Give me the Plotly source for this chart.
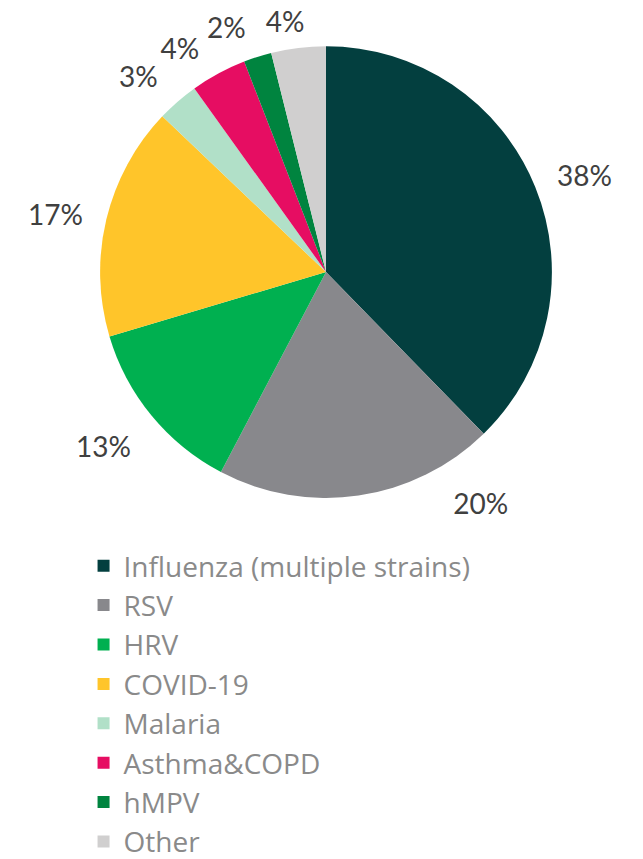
import math

import plotly.graph_objects as go

labels = [
    "Influenza (multiple strains)",
    "RSV",
    "HRV",
    "COVID-19",
    "Malaria",
    "Asthma&COPD",
    "hMPV",
    "Other",
]
shares = [37.7, 20.0, 12.7, 16.7, 3.0, 4.0, 2.0, 3.9]
colors = ["#033f3f", "#88888c", "#00b050", "#ffc52a", "#b1e0c8", "#e60d62", "#00843f", "#d0cfcf"]

# label placement tweaks (angle nudge in degrees, radius relative to pie edge)
label_shift = [1, -25, 1, -1, -2, -4, -4, -2]
label_r = [1.20, 1.22, 1.23, 1.2, 1.19, 1.18, 1.17, 1.13]

W, H = 643, 859
OFF = 8  # page body margin
cx, cy, R = 326 - OFF, 278 - OFF, 231  # pie centre / radius in px
TEXT_DY = 5 / R  # nudge labels down so the glyphs sit centred

total = sum(shares)
mid_deg = []
acc = 0.0
for s in shares:
    mid_deg.append((acc + s / 2) / total * 360)
    acc += s
pct_text = [f"{round(s / total * 100)}%" for s in shares]
theta = [math.radians(m + d) for m, d in zip(mid_deg, label_shift)]
lab_x = [r * math.sin(t) for r, t in zip(label_r, theta)]
lab_y = [r * math.cos(t) - TEXT_DY for r, t in zip(label_r, theta)]

pie_x = [(cx - R) / W, (cx + R) / W]
pie_y = [(H - cy - R) / H, (H - cy + R) / H]

# overlay axes in pie-radius units, wide enough to hold the outside labels
XR, YT, YB = 1.3, cy / R, 1.3
ax_x = [(cx - XR * R) / W, (cx + XR * R) / W]
ax_y = [(H - cy - YB * R) / H, 1.0]

fig = go.Figure()
fig.add_trace(
    go.Pie(
        labels=labels,
        values=shares,
        sort=False,
        direction="clockwise",
        rotation=0,
        marker=dict(colors=colors, line=dict(width=0)),
        textinfo="none",
        domain=dict(x=pie_x, y=pie_y),
        hoverinfo="label+percent",
    )
)
fig.add_trace(
    go.Scatter(
        x=lab_x,
        y=lab_y,
        mode="text",
        text=pct_text,
        textposition="middle center",
        textfont=dict(family="Lato, Open Sans, sans-serif", size=28, color="#404040"),
        showlegend=False,
        hoverinfo="skip",
        cliponaxis=False,
    )
)

fig.update_layout(
    width=W,
    height=H,
    margin=dict(l=0, r=0, t=0, b=0),
    paper_bgcolor="white",
    plot_bgcolor="rgba(0,0,0,0)",
    xaxis=dict(domain=ax_x, range=[-XR, XR], visible=False, fixedrange=True),
    yaxis=dict(domain=ax_y, range=[-YB, YT], visible=False, fixedrange=True),
    showlegend=True,
    legend=dict(
        x=0.1175,
        y=0.3651,
        xanchor="left",
        yanchor="top",
        font=dict(family="Open Sans, Lato, sans-serif", size=28, color="#8a8a8a"),
        bgcolor="rgba(0,0,0,0)",
        itemclick=False,
    ),
)

fig.write_html("out.html")
